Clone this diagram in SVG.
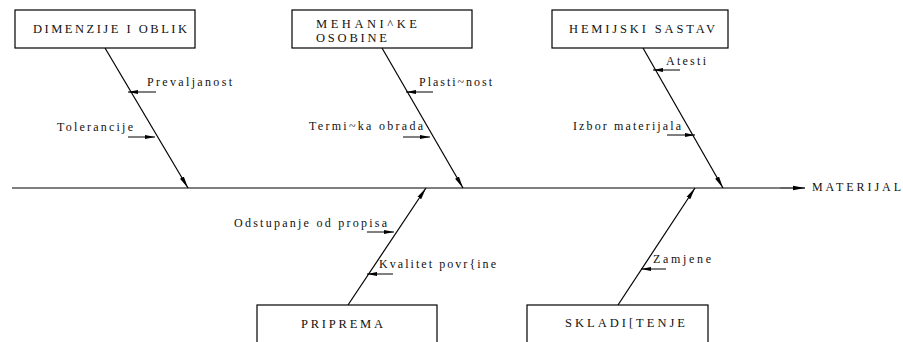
<svg xmlns="http://www.w3.org/2000/svg" width="903" height="342" viewBox="0 0 903 342">
<defs>
<style>
.box{fill:#fff;stroke:#000;stroke-width:1.2}
.ln{stroke:#000;stroke-width:1.2;fill:none}
.ar{stroke:#000;stroke-width:1;fill:none}
.t{font-family:"Liberation Serif","Times New Roman",serif;font-size:12px;fill:#111}
.bt{font-family:"Liberation Serif","Times New Roman",serif;font-size:12.5px;fill:#111}
</style>
<marker id="big" viewBox="0 0 12 6" refX="12" refY="3" markerWidth="12" markerHeight="6" markerUnits="userSpaceOnUse" orient="auto">
<path d="M0,0.8 L12,3 L0,5.2 Z" fill="#000"/>
</marker>
<marker id="sm" viewBox="0 0 10 5" refX="10" refY="2.5" markerWidth="10" markerHeight="5" markerUnits="userSpaceOnUse" orient="auto">
<path d="M0,0.6 L10,2.5 L0,4.4 Z" fill="#000"/>
</marker>
</defs>
<rect width="903" height="342" fill="#fff"/>

<g id="connectors">
<line class="ln" x1="12" y1="188" x2="780" y2="188"/>
<line class="ln" x1="780" y1="188" x2="805" y2="188" marker-end="url(#big)"/>
<line class="ln" x1="105" y1="48" x2="188" y2="188" marker-end="url(#big)"/>
<line class="ln" x1="382" y1="48" x2="463" y2="188" marker-end="url(#big)"/>
<line class="ln" x1="643" y1="48" x2="723" y2="188" marker-end="url(#big)"/>
<line class="ln" x1="348" y1="305" x2="426" y2="188" marker-end="url(#big)"/>
<line class="ln" x1="618" y1="305" x2="695" y2="188" marker-end="url(#big)"/>
<line class="ar" x1="156" y1="92" x2="128" y2="92" marker-end="url(#sm)"/>
<line class="ar" x1="128" y1="137" x2="155" y2="137" marker-end="url(#sm)"/>
<line class="ar" x1="433" y1="92" x2="406" y2="92" marker-end="url(#sm)"/>
<line class="ar" x1="403" y1="137" x2="430" y2="137" marker-end="url(#sm)"/>
<line class="ar" x1="680" y1="70" x2="653" y2="70" marker-end="url(#sm)"/>
<line class="ar" x1="667" y1="135" x2="695" y2="135" marker-end="url(#sm)"/>
<line class="ar" x1="367" y1="232" x2="394" y2="232" marker-end="url(#sm)"/>
<line class="ar" x1="393" y1="274" x2="367" y2="274" marker-end="url(#sm)"/>
<line class="ar" x1="666" y1="269" x2="641" y2="269" marker-end="url(#sm)"/>
</g>

<g id="node-dimenzije">
<rect class="box" x="15" y="10" width="180" height="38"/>
<text class="bt" x="33" y="33" textLength="154" lengthAdjust="spacing">DIMENZIJE I OBLIK</text>
</g>
<g id="node-mehanicke">
<rect class="box" x="292" y="10" width="180" height="38"/>
<text class="bt" x="316" y="28" textLength="101" lengthAdjust="spacing">MEHANI^KE</text>
<text class="bt" x="316" y="42" textLength="71" lengthAdjust="spacing">OSOBINE</text>
</g>
<g id="node-hemijski">
<rect class="box" x="552" y="10" width="176" height="38"/>
<text class="bt" x="569" y="33" textLength="146" lengthAdjust="spacing">HEMIJSKI SASTAV</text>
</g>
<g id="node-priprema">
<rect class="box" x="257" y="305" width="180" height="50"/>
<text class="bt" x="301" y="328" textLength="82" lengthAdjust="spacing">PRIPREMA</text>
</g>
<g id="node-skladistenje">
<rect class="box" x="527" y="305" width="181" height="50"/>
<text class="bt" x="565" y="327" textLength="120" lengthAdjust="spacing">SKLADI[TENJE</text>
</g>
<g id="node-materijal">
<text class="t" x="812" y="191" textLength="89" lengthAdjust="spacing">MATERIJAL</text>
</g>

<g id="labels">
<text class="t" x="147" y="86" textLength="85" lengthAdjust="spacing">Prevaljanost</text>
<text class="t" x="57" y="131" textLength="76" lengthAdjust="spacing">Tolerancije</text>
<text class="t" x="419" y="86" textLength="73" lengthAdjust="spacing">Plasti~nost</text>
<text class="t" x="309" y="130" textLength="114" lengthAdjust="spacing">Termi~ka obrada</text>
<text class="t" x="666" y="65" textLength="40" lengthAdjust="spacing">Atesti</text>
<text class="t" x="573" y="130" textLength="108" lengthAdjust="spacing">Izbor materijala</text>
<text class="t" x="234" y="227" textLength="153" lengthAdjust="spacing">Odstupanje od propisa</text>
<text class="t" x="379" y="268" textLength="117" lengthAdjust="spacing">Kvalitet povr{ine</text>
<text class="t" x="653" y="263" textLength="58" lengthAdjust="spacing">Zamjene</text>
</g>
</svg>
